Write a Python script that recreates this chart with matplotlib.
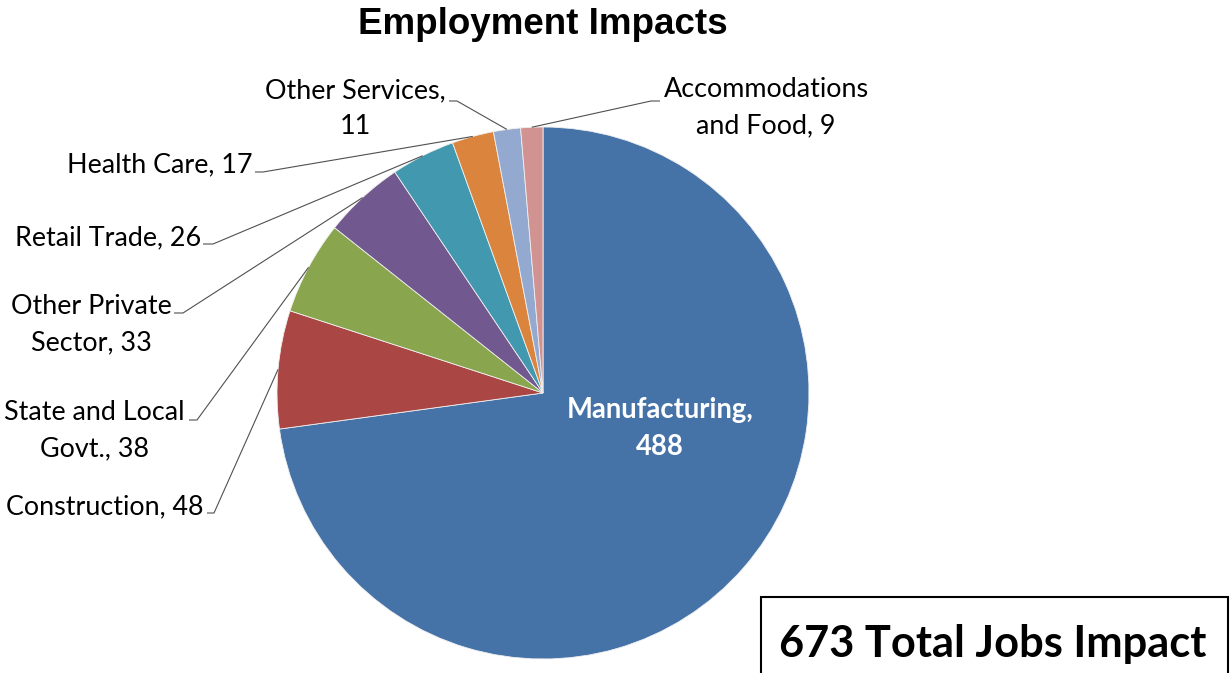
import matplotlib
matplotlib.use('Agg')
import matplotlib.pyplot as plt
import numpy as np
from matplotlib.patches import Rectangle

# ---- data ----
categories = ["Manufacturing", "Construction", "State and Local Govt.",
              "Other Private Sector", "Retail Trade", "Health Care",
              "Other Services", "Accommodations and Food"]
jobs = [488, 48, 38, 33, 26, 17, 11, 9]
label_lines = [["Manufacturing,", "488"],
               ["Construction, 48"],
               ["State and Local", "Govt., 38"],
               ["Other Private", "Sector, 33"],
               ["Retail Trade, 26"],
               ["Health Care, 17"],
               ["Other Services,", "11"],
               ["Accommodations", "and Food, 9"]]
colors = ["#4572A7", "#AA4643", "#89A54E", "#71588F",
          "#4198AF", "#DB843D", "#93A9CF", "#D19392"]
title_text = "Employment Impacts"
total_text = "673 Total Jobs Impact"

# ---- layout (pixel coordinates, y measured from top) ----
W, H = 1230, 673
fig = plt.figure(figsize=(12.3, 6.73), dpi=100)
ax = fig.add_axes([0, 0, 1, 1])

def Y(y):
    return H - y

cx, cy, R = 543, Y(393), 266
wedges, _ = ax.pie(jobs, colors=colors, startangle=90, counterclock=False,
                   center=(cx, cy), radius=R,
                   wedgeprops=dict(edgecolor='#f0f0f0', linewidth=0.6))
ax.set_xlim(0, W)
ax.set_ylim(0, H)
ax.set_aspect('auto')
ax.axis('off')

FONT = 'Lato'
LS = 36  # line spacing in px

# label layout: x center, first baseline, leader start (x, y), tick end x
layout = {
    1: (105, 514, (207, 513), 214),
    2: (94, 420, (189, 420), 197),
    3: (91, 314, (174, 313), 183),
    4: (108, 245, (203, 244), 213),
    5: (160, 172, (255, 172), 263),
    6: (355, 98, (449, 101), 457),
    7: (766, 97, (660, 101), 651),
}

for i, w in enumerate(wedges):
    lines = label_lines[i]
    if i == 0:
        for k, t in enumerate(lines):
            ax.text(660, Y(418 + k * 37), t, ha='center', va='baseline',
                    color='white', fontsize=19.8, fontweight='bold',
                    family=FONT)
        continue
    xc, yb, (lx, ly), tx = layout[i]
    for k, t in enumerate(lines):
        ax.text(xc, Y(yb + k * LS), t, ha='center', va='baseline',
                color='black', fontsize=19.4, family=FONT)
    mid = np.deg2rad((w.theta1 + w.theta2) / 2)
    ex = cx + R * np.cos(mid)
    ey = cy + R * np.sin(mid)
    ax.plot([lx, tx, ex], [Y(ly), Y(ly), ey], color='#505050', lw=0.8,
            solid_capstyle='butt', zorder=3)

ax.text(543, Y(34), title_text, ha='center', va='baseline',
        fontsize=26.5, fontweight='bold', family='Liberation Sans')

ax.add_patch(Rectangle((761, Y(690)), 1228 - 761, 690 - 597,
                       facecolor='white', edgecolor='black', lw=1.5,
                       zorder=4))
ax.text(993, Y(657), total_text, ha='center', va='baseline',
        fontsize=31.2, fontweight='bold', family=FONT, zorder=5)

fig.savefig('out.png', dpi=100)
